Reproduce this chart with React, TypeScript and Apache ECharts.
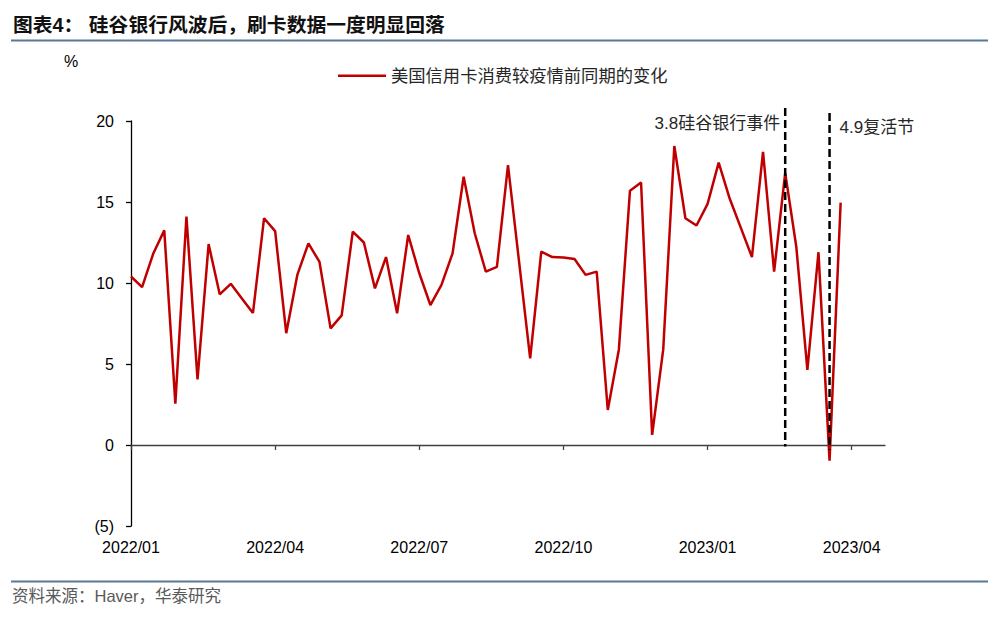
import React, { useEffect, useRef } from "react";
import * as echarts from "echarts";

const titleText = "图表4： 硅谷银行风波后，刷卡数据一度明显回落";
const sourceText = "资料来源：Haver，华泰研究";
const unitText = "%";
const seriesName = "美国信用卡消费较疫情前同期的变化";

const categories = [
  "2022/01/19", "2022/01/26", "2022/02/02", "2022/02/09", "2022/02/16", "2022/02/23",
  "2022/03/02", "2022/03/09", "2022/03/16", "2022/03/23", "2022/03/30", "2022/04/06",
  "2022/04/13", "2022/04/20", "2022/04/27", "2022/05/04", "2022/05/11", "2022/05/18",
  "2022/05/25", "2022/06/01", "2022/06/08", "2022/06/15", "2022/06/22", "2022/06/29",
  "2022/07/06", "2022/07/13", "2022/07/20", "2022/07/27", "2022/08/03", "2022/08/10",
  "2022/08/17", "2022/08/24", "2022/08/31", "2022/09/07", "2022/09/14", "2022/09/21",
  "2022/09/28", "2022/10/05", "2022/10/12", "2022/10/19", "2022/10/26", "2022/11/02",
  "2022/11/09", "2022/11/16", "2022/11/23", "2022/11/30", "2022/12/07", "2022/12/14",
  "2022/12/21", "2022/12/28", "2023/01/04", "2023/01/11", "2023/01/18", "2023/01/25",
  "2023/02/01", "2023/02/08", "2023/02/15", "2023/02/22", "2023/03/01", "2023/03/08",
  "2023/03/15", "2023/03/22", "2023/03/29", "2023/04/05", "2023/04/12", "2023/04/19",
  "2023/04/26", "2023/05/03", "2023/05/10",
];

const values = [
  10.4, 9.75, 11.8, 13.25, 2.55, 14.1, 4.05, 12.4, 9.3, 9.95,
  9.05, 8.15, 14.0, 13.2, 6.9, 10.5, 12.45, 11.3, 7.2, 8.0,
  13.17, 12.5, 9.67, 11.6, 8.13, 12.96, 10.6, 8.64, 9.88, 11.83,
  16.56, 13.07, 10.7, 11.0, 17.28, 11.3, 5.35, 11.93, 11.6, 11.58,
  11.48, 10.5, 10.7, 2.16, 5.9, 15.7, 16.2, 0.62, 5.9, 18.46,
  14.0, 13.55, 14.88, 17.43, 15.2, 13.4, 11.6, 18.1, 10.7, 16.8,
  12.24, 4.63, 11.9, -0.97, 14.96,
];

const labelEvery = 13;

const eventDates = ["2023/03/08", "2023/04/05"];
const eventLabels = ["3.8硅谷银行事件", "4.9复活节"];
const eventTop = [20.8, 20.5];
const eventBottom = [-0.1, -0.3];
const eventAlign = ["right", "left"];

const yMin = -5;
const yMax = 20;
const yStep = 5;

const FONT = "'Liberation Sans', Arial, 'Noto Sans CJK SC', sans-serif";

export default function App() {
  const ref = useRef<HTMLDivElement>(null);

  useEffect(() => {
    if (!ref.current) return;
    const chart = echarts.init(ref.current, undefined, { renderer: "svg" });

    const renderEvent = (params: any, api: any) => {
      const i = api.value(3);
      const top = api.coord([api.value(0), api.value(1)]);
      const bot = api.coord([api.value(0), api.value(2)]);
      const right = eventAlign[i] === "right";
      return {
        type: "group",
        children: [
          {
            type: "line",
            shape: { x1: top[0], y1: top[1], x2: bot[0], y2: bot[1] },
            style: { stroke: "#000", lineWidth: 2.5, lineDash: [8, 4] },
          },
          {
            type: "text",
            x: right ? top[0] - 5 : top[0] + 10,
            y: top[1] + 15,
            style: {
              text: eventLabels[i],
              fill: "#262626",
              fontSize: 17,
              fontFamily: FONT,
              align: right ? "right" : "left",
              verticalAlign: "middle",
            },
          },
        ],
      };
    };

    const showIdx = (i: number) => i % labelEvery === 0;

    const option: any = {
      animation: false,
      backgroundColor: "#fff",
      grid: { left: 131, top: 121, width: 754, height: 405, containLabel: false },
      legend: {
        data: [seriesName],
        left: 338,
        top: 67,
        padding: 0,
        icon: "rect",
        itemWidth: 48,
        itemHeight: 2.5,
        textStyle: { fontSize: 17.3, color: "#262626", fontFamily: FONT },
      },
      xAxis: [
        {
          type: "category",
          data: categories,
          boundaryGap: false,
          axisLine: { show: false, onZero: false },
          axisTick: { show: false },
          splitLine: { show: false },
          axisLabel: {
            interval: showIdx,
            formatter: (v: string) => v.slice(0, 7),
            fontSize: 16,
            color: "#000",
            margin: 13,
            fontFamily: FONT,
          },
        },
        {
          type: "category",
          data: categories,
          boundaryGap: false,
          position: "bottom",
          axisLine: { show: true, onZero: true, onZeroAxisIndex: 0, lineStyle: { color: "#404040", width: 1.3 } },
          axisTick: { show: true, interval: showIdx, length: 5, lineStyle: { color: "#404040", width: 1.3 } },
          axisLabel: { show: false },
          splitLine: { show: false },
        },
      ],
      yAxis: {
        type: "value",
        min: yMin,
        max: yMax,
        interval: yStep,
        axisLine: { show: true, onZero: false, lineStyle: { color: "#000", width: 1.3 } },
        axisTick: { show: true, length: 5, lineStyle: { color: "#000", width: 1.3 } },
        splitLine: { show: false },
        axisLabel: {
          formatter: (v: number) => (v < 0 ? `(${-v})` : `${v}`),
          fontSize: 16,
          color: "#000",
          margin: 17,
          fontFamily: FONT,
        },
      },
      series: [
        {
          name: seriesName,
          type: "line",
          data: values,
          symbol: "none",
          lineStyle: { color: "#C00000", width: 2.5 },
          itemStyle: { color: "#C00000" },
          z: 3,
        },
        {
          type: "custom",
          name: "events",
          data: eventDates.map((d, i) => [d, eventTop[i], eventBottom[i], i]),
          renderItem: renderEvent,
          encode: { x: 0, y: [1, 2] },
          clip: false,
          silent: true,
          z: 5,
        },
      ],
      graphic: [
        {
          type: "text",
          left: 13,
          top: 15,
          style: { text: titleText, fontSize: 19.8, fontWeight: "bold", fill: "#111", fontFamily: FONT },
        },
        {
          type: "line",
          shape: { x1: 11, y1: 40.5, x2: 988, y2: 40.5 },
          style: { stroke: "#5a7896", lineWidth: 2 },
        },
        {
          type: "text",
          left: 64,
          top: 53,
          style: { text: unitText, fontSize: 16, fill: "#000", fontFamily: FONT },
        },
        {
          type: "line",
          shape: { x1: 11, y1: 581.5, x2: 988, y2: 581.5 },
          style: { stroke: "#5a7896", lineWidth: 2 },
        },
        {
          type: "text",
          left: 12,
          top: 588,
          style: { text: sourceText, fontSize: 16.5, fill: "#595959", fontFamily: FONT },
        },
      ],
    };

    chart.setOption(option);
    return () => chart.dispose();
  }, []);

  return (
    <div
      ref={ref}
      style={{ position: "fixed", left: 0, top: 0, width: 998, height: 617, background: "#fff" }}
    />
  );
}
